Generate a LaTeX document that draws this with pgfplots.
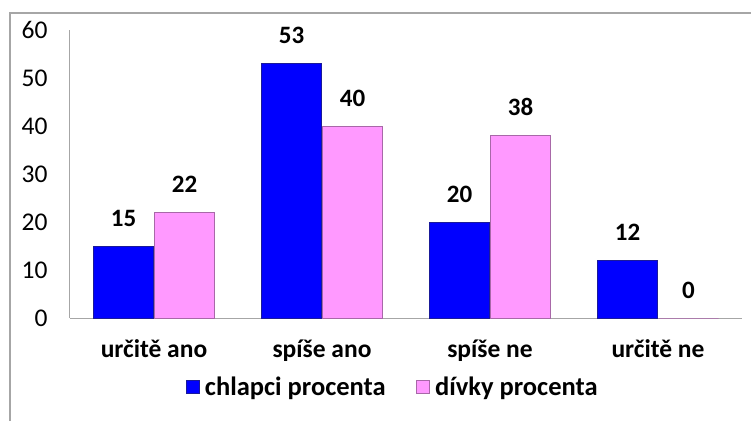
\documentclass[border=0pt]{standalone}
\usepackage{pgfplots}
\pgfplotsset{compat=1.18}
\usepackage{fontspec}
\setmainfont{Carlito}
\definecolor{boyblue}{HTML}{0000FF}
\definecolor{boyedge}{HTML}{1A1A9A}
\definecolor{girlpink}{HTML}{FF99FF}
\definecolor{girledge}{HTML}{A868A8}
\definecolor{framegray}{HTML}{A6A6A6}
\begin{document}
\begin{tikzpicture}
\useasboundingbox (0,0) rectangle (751pt,421pt);
\draw[framegray, line width=1.2pt] (10pt,0) -- (10pt,408pt) -- (751pt,408pt);
\begin{axis}[
  at={(70pt,103pt)}, anchor=south west,
  scale only axis, width=672pt, height=288pt,
  ybar=1pt, bar width=60pt,
  xmin=0, xmax=4, ymin=0, ymax=60,
  xtick={0.5,1.5,2.5,3.5},
  xticklabels={určitě ano, spíše ano, spíše ne, určitě ne},
  ytick={0,10,20,30,40,50,60},
  yticklabel={\fontsize{25.5}{30}\selectfont\pgfmathprintnumber[assume math mode=true]{\tick}},
  major tick length=0pt,
  axis x line*=bottom, axis y line*=left,
  axis line style={framegray, line width=1pt},
  /pgf/number format/assume math mode=true,
  x tick label style={font=\fontsize{25.5}{30}\selectfont\bfseries, text=black, yshift=-18pt},
  y tick label style={font=\fontsize{25.5}{30}\selectfont, text=black, anchor=east, xshift=-19pt},
  nodes near coords,
  every node near coord/.append style={font=\fontsize{25}{30}\selectfont\bfseries, yshift=16pt, text=black},
  legend columns=2,
  legend style={at={(0.48,-0.24)}, anchor=center, draw=none, fill=none,
    font=\fontsize{26.5}{30}\selectfont\bfseries,
    /tikz/every even column/.append style={column sep=28pt}},
  legend image code/.code={\draw[#1] (0pt,-6.5pt) rectangle (13pt,6.5pt); \path[draw=none,fill=none] (0pt,0pt) -- (17pt,0pt);},
]
\addplot[fill=boyblue, draw=boyedge, line width=0.8pt] coordinates {(0.5,15) (1.5,53) (2.5,20) (3.5,12)};
\addplot[fill=girlpink, draw=girledge, line width=0.8pt] coordinates {(0.5,22) (1.5,40) (2.5,38) (3.5,0)};
\legend{chlapci procenta, dívky procenta}
\end{axis}
\end{tikzpicture}
\end{document}
